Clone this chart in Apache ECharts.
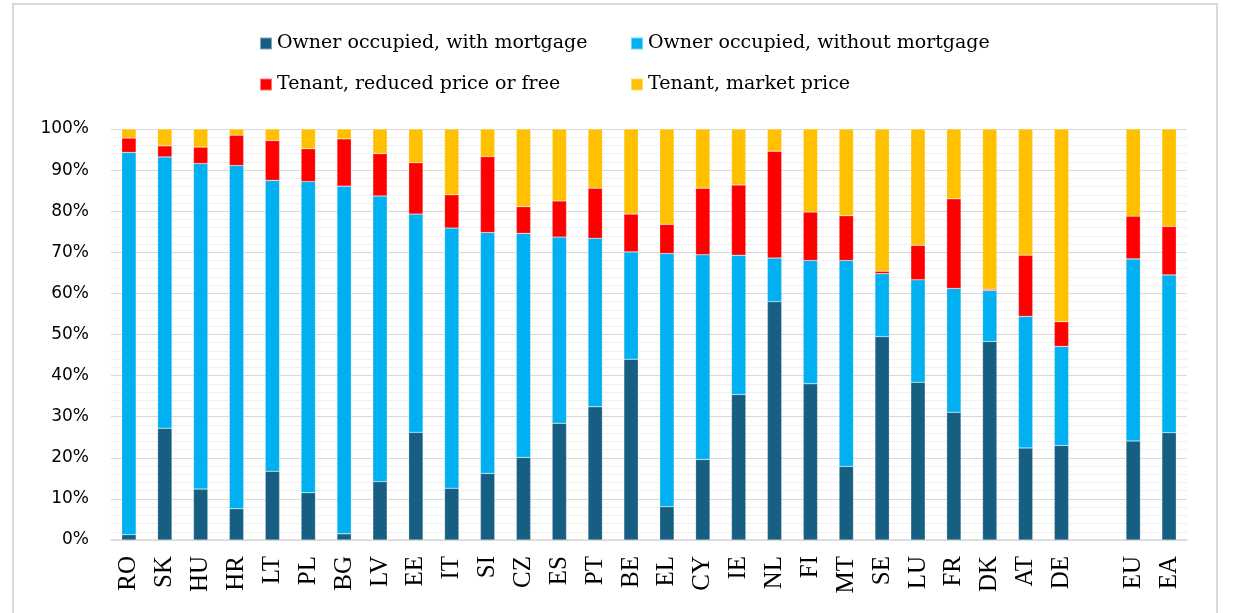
<!DOCTYPE html>
<html>
<head>
<meta charset="utf-8">
<script src="https://cdn.jsdelivr.net/npm/echarts@6/dist/echarts.min.js"></script>
<style>
  html, body { margin: 0; padding: 0; background: #ffffff; }
  #main { width: 1235px; height: 613px; }
</style>
</head>
<body>
<div id="main"></div>
<script>
// housing tenure status by country, % of population
var countries = ['RO', 'SK', 'HU', 'HR', 'LT', 'PL', 'BG', 'LV', 'EE', 'IT', 'SI', 'CZ', 'ES', 'PT', 'BE',
  'EL', 'CY', 'IE', 'NL', 'FI', 'MT', 'SE', 'LU', 'FR', 'DK', 'AT', 'DE', '', 'EU', 'EA'];

var withMortgage = [1.3, 27.2, 12.4, 7.6, 16.7, 11.5, 1.5, 14.2, 26.2, 12.6, 16.2, 20.1, 28.4, 32.4, 44.0,
  8.1, 19.6, 35.4, 58.0, 38.0, 17.9, 49.5, 38.4, 31.1, 48.3, 22.4, 23.0, '-', 24.1, 26.1];
var withoutMortgage = [93.0, 66.0, 79.2, 83.5, 70.8, 75.7, 84.6, 69.5, 53.1, 63.3, 58.6, 54.5, 45.3, 41.0, 26.1,
  61.6, 49.8, 33.9, 10.6, 30.0, 50.1, 15.3, 24.9, 30.1, 12.4, 32.0, 24.1, '-', 44.3, 38.4];
var reducedPrice = [3.5, 2.7, 4.0, 7.4, 9.7, 8.0, 11.5, 10.3, 12.5, 8.1, 18.5, 6.5, 8.8, 12.2, 9.2,
  7.1, 16.2, 17.1, 26.0, 11.8, 10.9, 0.6, 8.4, 21.8, 0.3, 14.9, 6.0, '-', 10.4, 11.8];
var marketPrice = [2.2, 4.1, 4.4, 1.5, 2.8, 4.8, 2.4, 6.0, 8.2, 16.0, 6.7, 18.9, 17.5, 14.4, 20.7,
  23.2, 14.4, 13.6, 5.4, 20.2, 21.1, 34.6, 28.3, 17.0, 39.0, 30.7, 46.9, '-', 21.2, 23.7];

var seriesNames = ['Owner occupied, with mortgage', 'Owner occupied, without mortgage',
  'Tenant, reduced price or free', 'Tenant, market price'];
var seriesData = [withMortgage, withoutMortgage, reducedPrice, marketPrice];
var colors = ['#175f82', '#00b0f0', '#ff0000', '#ffc000'];

var chart = echarts.init(document.getElementById('main'), null, { renderer: 'canvas' });

var legendText = { fontFamily: 'DejaVu Serif', fontSize: 19, color: '#000' };
function legendItem(i, left, top) {
  return {
    data: [seriesNames[i]],
    left: left,
    top: top,
    padding: 0,
    itemWidth: 12,
    itemHeight: 12,
    itemGap: 0,
    icon: 'rect',
    selectedMode: false,
    textStyle: legendText
  };
}

var option = {
  backgroundColor: '#ffffff',
  color: colors,
  animation: false,
  graphic: [{
    type: 'rect',
    shape: { x: 13, y: 4, width: 1204, height: 640 },
    style: { fill: 'none', stroke: '#d9d9d9', lineWidth: 2 },
    silent: true
  }],
  legend: [
    legendItem(0, 259, 34),
    legendItem(1, 630, 34),
    legendItem(2, 259, 75),
    legendItem(3, 630, 75)
  ],
  grid: { left: 111, right: 48, top: 129, bottom: 73 },
  xAxis: {
    type: 'category',
    data: countries,
    axisLine: { lineStyle: { color: '#d9d9d9', width: 1.5 } },
    axisTick: { show: false },
    axisLabel: {
      interval: 0,
      rotate: 90,
      margin: 16,
      fontFamily: 'Liberation Serif',
      fontSize: 25,
      color: '#000'
    }
  },
  yAxis: {
    type: 'value',
    min: 0,
    max: 100,
    interval: 10,
    axisLine: { show: false },
    axisTick: { show: false },
    axisLabel: {
      formatter: '{value}%',
      margin: 22,
      fontFamily: 'DejaVu Sans',
      fontSize: 17,
      color: '#000'
    },
    splitLine: { lineStyle: { color: '#d9d9d9', width: 1.2 } },
    minorTick: { show: false, splitNumber: 5 },
    minorSplitLine: { show: true, lineStyle: { color: '#f0f0f0', width: 1 } }
  },
  series: seriesNames.map(function (name, i) {
    return {
      name: name,
      type: 'bar',
      stack: 'total',
      barWidth: '40%',
      data: seriesData[i],
      itemStyle: { color: colors[i], borderColor: 'rgba(255,255,255,0.45)', borderWidth: 0.5 }
    };
  })
};

chart.setOption(option);
</script>
</body>
</html>
